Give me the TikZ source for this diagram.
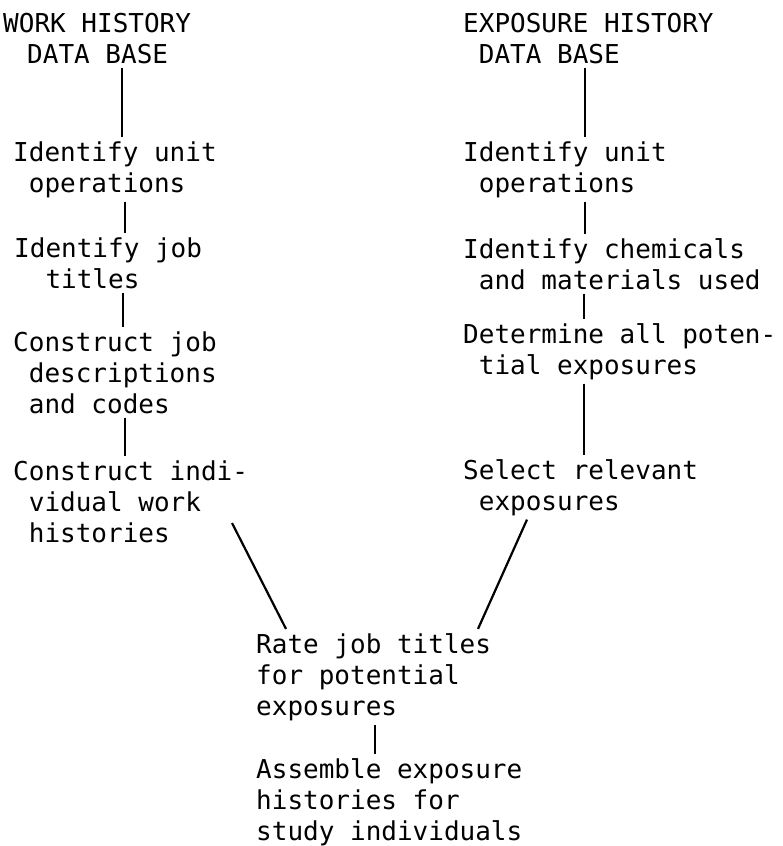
\documentclass[tikz,border=0pt]{standalone}
\usepackage{fontspec}
\setmonofont{DejaVu Sans Mono}
\begin{document}
\begin{tikzpicture}[x=1pt,y=-1pt,
  txt/.style={anchor=base west,align=left,inner xsep=0pt,inner ysep=4pt,
    font=\ttfamily\fontsize{26}{31}\selectfont},
  link/.style={line width=2.2pt}]
\useasboundingbox (0,0) rectangle (782,846);
% left column (positions are the last baselines)
\node[txt] (wh) at (3,63) {WORK HISTORY\\\hspace*{24pt}DATA BASE};
\node[txt] (iu) at (13,192) {Identify unit\\~operations};
\node[txt] (ij) at (14,288) {Identify job\\~~titles};
\node[txt] (cj) at (13,413) {Construct job\\~descriptions\\~and codes};
\node[txt] (ci) at (13,542) {Construct indi-\\~vidual work\\~histories};
% right column
\node[txt] (eh) at (463,63) {EXPOSURE HISTORY\\~DATA BASE};
\node[txt] (ru) at (463,192) {Identify unit\\~operations};
\node[txt] (rc) at (463,289) {Identify chemicals\\~and materials used};
\node[txt] (dp) at (463,374) {Determine all poten-\\~tial exposures};
\node[txt] (sr) at (463,510) {Select relevant\\~exposures};
% bottom
\node[txt] (rt) at (256,715) {Rate job titles\\for potential\\exposures};
\node[txt] (as) at (256,840) {Assemble exposure\\histories for\\study individuals};
\coordinate (lt) at (232,523);
\draw[link] (wh.south -| 122,0) -- (iu.north -| 122,0);
\draw[link] (iu.south -| 125,0) -- (ij.north -| 125,0);
\draw[link] (ij.south -| 123,0) -- (cj.north -| 123,0);
\draw[link] (cj.south -| 125,0) -- (ci.north -| 125,0);
\draw[link] (eh.south -| 585,0) -- (ru.north -| 585,0);
\draw[link] (ru.south -| 585,0) -- (rc.north -| 585,0);
\draw[link] (rc.south -| 584,0) -- (dp.north -| 584,0);
\draw[link] (dp.south -| 584,0) -- (sr.north -| 584,0);
\draw[link] (lt) -- (rt.north -| 286,0);
\draw[link] (sr.south -| 527,0) -- (rt.north -| 478,0);
\draw[link] (rt.south -| 375,0) -- (as.north -| 375,0);
\end{tikzpicture}
\end{document}
